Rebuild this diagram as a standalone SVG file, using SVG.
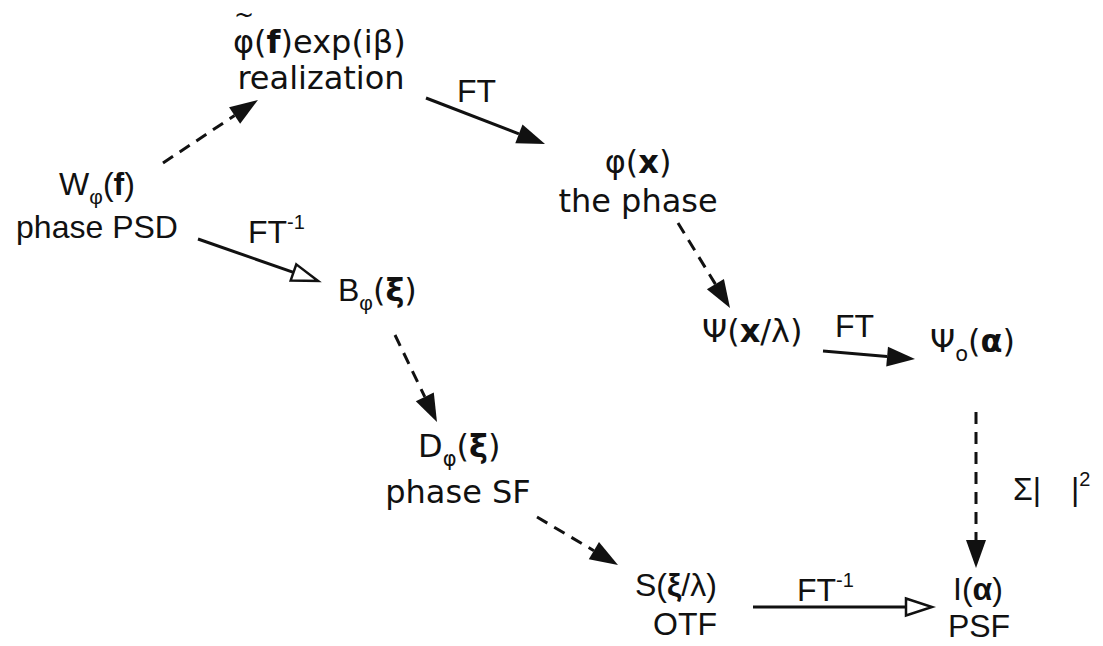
<svg xmlns="http://www.w3.org/2000/svg" width="1103" height="646" viewBox="0 0 1103 646">
  <style>
    .h { font-family: "Liberation Sans", Arial, sans-serif; font-size: 32px; fill: #111; }
    .l { font-family: "DejaVu Sans", "Noto Sans", sans-serif; font-size: 32px; fill: #111; }
    .b { font-weight: bold; }
    .sub { font-size: 21px; }
    .sup { font-size: 20px; }
    .acc { font-size: 24px; }
    .edge { stroke: #111; stroke-width: 3; fill: none; }
    .dash { stroke-dasharray: 12 8; }
  </style>
  <defs>
    <marker id="solid" markerUnits="userSpaceOnUse" markerWidth="32" markerHeight="24" refX="0" refY="0" orient="auto" viewBox="0 -12 32 24" overflow="visible">
      <path d="M0,-10 L28,0 L0,10 Z" fill="#111"/>
    </marker>
    <marker id="hollow" markerUnits="userSpaceOnUse" markerWidth="32" markerHeight="24" refX="0" refY="0" orient="auto" viewBox="0 -12 32 24" overflow="visible">
      <path d="M0,-8.5 L26,0 L0,8.5 Z" fill="#fff" stroke="#111" stroke-width="2.5" stroke-linejoin="miter"/>
    </marker>
  </defs>
  <rect width="1103" height="646" fill="#fff"/>

  <!-- connectors: each line stops at the arrowhead base -->
  <g id="connectors">
    <path class="edge dash" d="M163,163 L234.6,115.5" marker-end="url(#solid)"/>
    <path class="edge" d="M426,98 L518.9,133.9" marker-end="url(#solid)"/>
    <path class="edge" d="M198,239 L293.5,272.4" marker-end="url(#hollow)"/>
    <path class="edge dash" d="M678,223 L715.4,284.1" marker-end="url(#solid)"/>
    <path class="edge" d="M823,351 L887.1,356.6" marker-end="url(#solid)"/>
    <path class="edge dash" d="M395,335 L424.8,396.8" marker-end="url(#solid)"/>
    <path class="edge dash" d="M537,517 L593.9,550.7" marker-end="url(#solid)"/>
    <path class="edge dash" d="M976,412 L976,540" marker-end="url(#solid)"/>
    <path class="edge" d="M753,607 L906,607" marker-end="url(#hollow)"/>
  </g>

  <!-- transform labels on the edges -->
  <g id="edge-labels">
    <text class="h" x="457" y="102">FT</text>
    <text class="h" x="248" y="243">FT<tspan class="sup" dy="-14">-1</tspan></text>
    <text class="h" x="835" y="337">FT</text>
    <text class="h" x="797" y="601">FT<tspan class="sup" dy="-14">-1</tspan></text>
    <text class="h" x="1013" y="500">Σ|</text>
    <text class="h" x="1071" y="500">|<tspan class="sup" dy="-14">2</tspan></text>
  </g>

  <g id="realization">
    <!-- tilde accent placed above the phi in the same text run -->
    <text class="l"><tspan class="acc" x="234" y="22.5">~</tspan><tspan x="233" y="53">φ(</tspan><tspan class="b">f</tspan>)exp(iβ)</text>
    <text class="l" x="321" y="89" text-anchor="middle">realization</text>
  </g>

  <g id="psd">
    <text class="h" x="97" y="195" text-anchor="middle">W<tspan class="sub" dy="9">φ</tspan><tspan dy="-9">(</tspan><tspan class="b">f</tspan>)</text>
    <text class="h" x="97" y="238" text-anchor="middle">phase PSD</text>
  </g>

  <g id="phase">
    <text class="l" x="638" y="173" text-anchor="middle">φ(<tspan class="b">x</tspan>)</text>
    <text class="l" x="638" y="212" text-anchor="middle">the phase</text>
  </g>

  <g id="covariance">
    <text class="h" x="338" y="301">B<tspan class="sub" dy="9">φ</tspan><tspan class="l" dy="-9">(</tspan><tspan class="l b">ξ</tspan><tspan class="l">)</tspan></text>
  </g>

  <g id="pupil-field">
    <text class="l" x="702" y="342">Ψ(<tspan class="b">x</tspan>/λ)</text>
  </g>

  <g id="focal-field">
    <text class="l" x="930" y="352">Ψ<tspan class="sub" dy="9">o</tspan><tspan dy="-9">(</tspan><tspan class="b">α</tspan>)</text>
  </g>

  <g id="structure-function">
    <text class="l" x="418" y="457">D<tspan class="sub" dy="9">φ</tspan><tspan dy="-9">(</tspan><tspan class="b">ξ</tspan>)</text>
    <text class="l" x="458" y="503" text-anchor="middle">phase SF</text>
  </g>

  <g id="otf">
    <text class="h" x="635" y="596">S(<tspan class="b">ξ</tspan>/λ)</text>
    <text class="h" x="685" y="635" text-anchor="middle">OTF</text>
  </g>

  <g id="psf">
    <text class="h" x="953" y="600">I(<tspan class="b">α</tspan>)</text>
    <text class="h" x="979" y="637" text-anchor="middle">PSF</text>
  </g>
</svg>
